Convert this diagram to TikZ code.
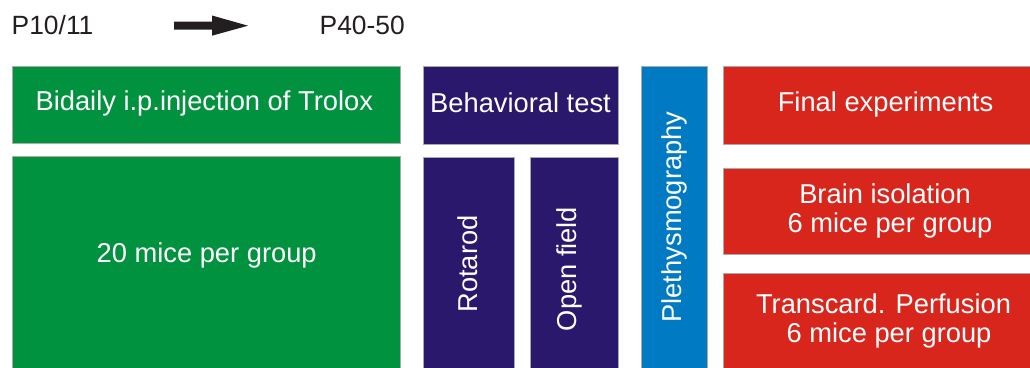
\documentclass[tikz,border=0pt]{standalone}
\usepackage{fontspec}
\setmainfont{Liberation Sans}
\definecolor{injgreen}{RGB}{0,146,63}
\definecolor{behpurple}{RGB}{42,24,108}
\definecolor{plethblue}{RGB}{0,122,194}
\definecolor{finalred}{RGB}{217,38,29}
\definecolor{arrowblack}{RGB}{35,31,32}
\definecolor{paneledge}{RGB}{170,170,170}
\begin{document}
\begin{tikzpicture}[x=1pt,y=-1pt,
  panel/.style={draw=paneledge, line width=0.8pt, inner sep=0pt, outer sep=0pt, anchor=north west},
  boxtext/.style={text=white, font=\fontsize{27.3}{29.5}\selectfont, inner sep=0pt, anchor=base},
  vtext/.style={boxtext, rotate=90},
  headtext/.style={text=arrowblack, font=\fontsize{26.4}{28}\selectfont, inner sep=0pt, anchor=base west}]
\useasboundingbox (0,0) rectangle (1030,367);

% timeline header
\node[headtext] (start) at (11.5,34) {P10/11};
\node[headtext] (stop) at (319.5,34) {P40-50};
\coordinate (tail) at (174,25.7);
\coordinate (tip) at (248,25.7);
\fill[arrowblack] (tail) ++(0,-4.2) -- ++(38,0) -- ++(0,-6) -- (tip)
  -- ++(-36,10) -- ++(0,-6) -- ++(-38,0) -- cycle;

\begin{scope}
\clip (0,0) rectangle (1030,367);
% treatment column
\node[panel, fill=injgreen, minimum width=388pt, minimum height=77pt] (inj) at (12,66) {};
\node[panel, fill=injgreen, minimum width=388pt, minimum height=215pt] (group) at (12,156) {};
% behaviour column
\node[panel, fill=behpurple, minimum width=195pt, minimum height=78pt] (beh) at (423,66) {};
\node[panel, fill=behpurple, minimum width=91pt, minimum height=214pt] (rota) at (423,157) {};
\node[panel, fill=behpurple, minimum width=88pt, minimum height=214pt] (open) at (530,157) {};
% plethysmography column
\node[panel, fill=plethblue, minimum width=66pt, minimum height=305pt] (pleth) at (641,66) {};
% final experiments column
\node[panel, fill=finalred, minimum width=312pt, minimum height=78pt] (final) at (723,66) {};
\node[panel, fill=finalred, minimum width=312pt, minimum height=86pt] (brain) at (723,168) {};
\node[panel, fill=finalred, minimum width=312pt, minimum height=98pt] (perf) at (723,273) {};
\end{scope}

% labels
\node[boxtext] (injlabel) at (204.3,110.5) {Bidaily i.p.injection of Trolox};
\node[boxtext] (grouplabel) at (206.7,262.5) {20 mice per group};
\node[boxtext] (behlabel) at (520.5,112) {Behavioral test};
\node[vtext] (rotalabel) at (477,264) {Rotarod};
\node[vtext] (openlabel) at (576.7,269) {Open field};
\node[vtext] (plethlabel) at (681,217) {Plethysmography};
\node[boxtext] (finallabel) at (885.5,111.5) {Final experiments};
\node[boxtext] (brainlabel) at (885,203.3) {Brain isolation};
\node[boxtext] (brainn) at (890,232.5) {6 mice per group};
\node[boxtext] (perflabel) at (883.5,313.3) {Transcard. Perfusion};
\node[boxtext] (perfn) at (889,342.7) {6 mice per group};
\end{tikzpicture}
\end{document}
